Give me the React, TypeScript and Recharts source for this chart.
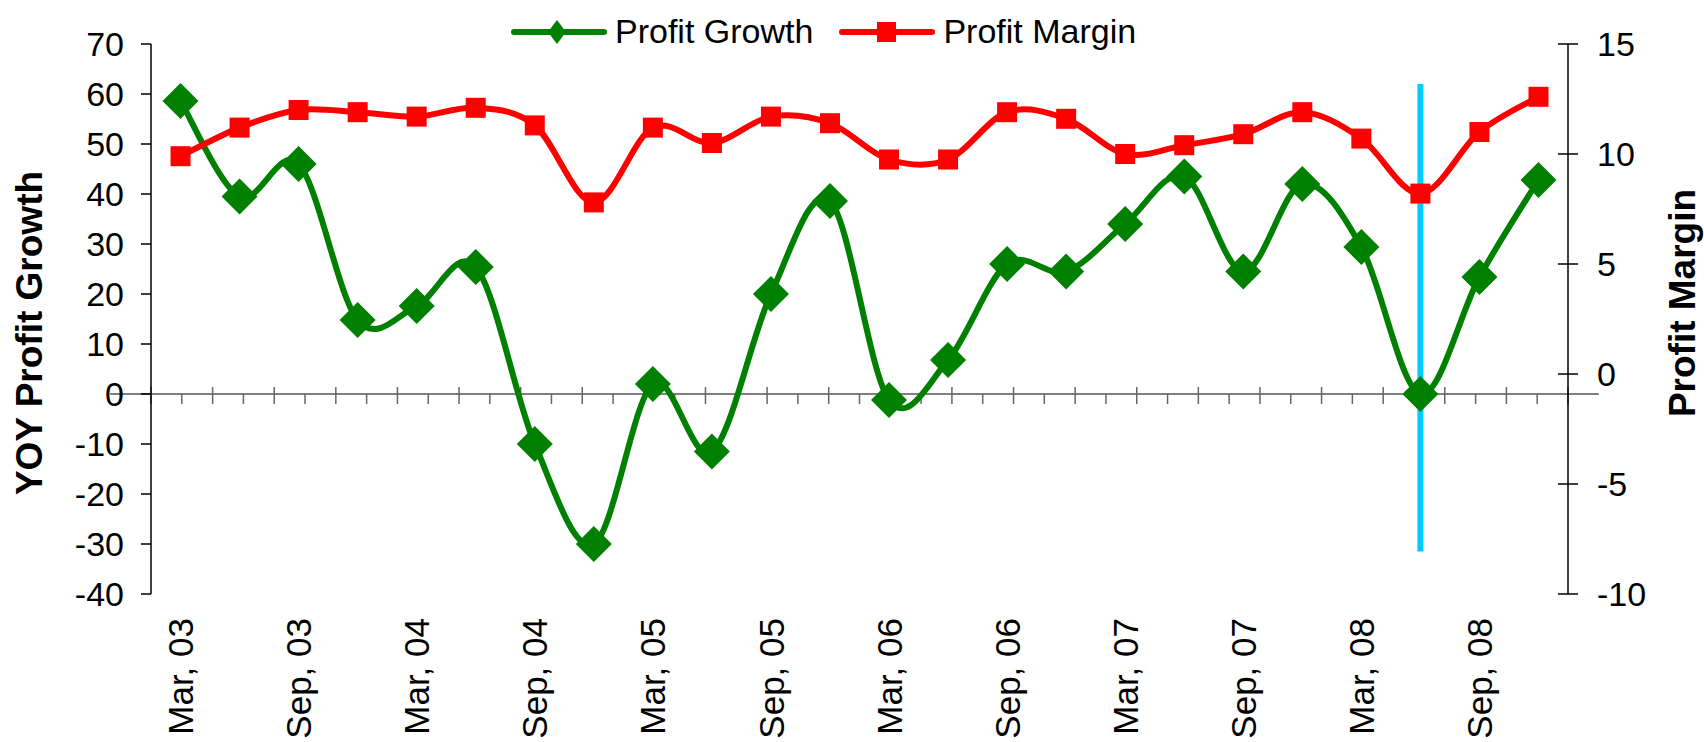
import React from 'react';
import {
  LineChart,
  Line,
  XAxis,
  YAxis,
  Legend,
  ReferenceLine,
} from 'recharts';

const quarters = [
  'Mar, 03', 'Jun, 03', 'Sep, 03', 'Dec, 03',
  'Mar, 04', 'Jun, 04', 'Sep, 04', 'Dec, 04',
  'Mar, 05', 'Jun, 05', 'Sep, 05', 'Dec, 05',
  'Mar, 06', 'Jun, 06', 'Sep, 06', 'Dec, 06',
  'Mar, 07', 'Jun, 07', 'Sep, 07', 'Dec, 07',
  'Mar, 08', 'Jun, 08', 'Sep, 08', 'Dec, 08',
];
const profitGrowth = [
  58.6, 39.5, 46, 14.8, 17.6, 25.4, -10, -30, 2, -11.5, 20, 38.6,
  -1.2, 6.8, 26, 24.5, 34, 43.5, 24.5, 42, 29.4, 0, 23.4, 42.8,
];
const profitMargin = [
  9.9, 11.2, 12.0, 11.9, 11.7, 12.1, 11.3, 7.8, 11.2, 10.5, 11.7, 11.4,
  9.75, 9.75, 11.9, 11.6, 10.0, 10.4, 10.9, 11.9, 10.7, 8.2, 11.0, 12.6,
];
const leftTicks = [-40, -30, -20, -10, 0, 10, 20, 30, 40, 50, 60, 70];
const rightTicks = [-10, -5, 0, 5, 10, 15];
// vertical marker (Jun 08), in left-axis units
const markerQuarter = 'Jun, 08';
const markerRange = [62, -31.5];

const data = quarters.map((q, i) => ({
  quarter: q,
  growth: profitGrowth[i],
  margin: profitMargin[i],
}));

const W = 1704;
const H = 742;
const PLOT_LEFT = 151;
const PLOT_RIGHT = 1568;
const PLOT_TOP = 44;
const PLOT_BOTTOM = 594;
const BAND = (PLOT_RIGHT - PLOT_LEFT) / quarters.length;

const FONT = '"Liberation Sans", Arial, sans-serif';
const GREEN = '#008000';
const RED = '#FF0000';

// Excel-like smoothed line (Catmull-Rom as cubic bezier)
const excelCurve = (context: any) => {
  let pts: number[][] = [];
  return {
    areaStart() {},
    areaEnd() {},
    lineStart() {
      pts = [];
    },
    point(x: number, y: number) {
      pts.push([+x, +y]);
    },
    lineEnd() {
      if (!pts.length) return;
      context.moveTo(pts[0][0], pts[0][1]);
      for (let i = 0; i < pts.length - 1; i++) {
        const p0 = pts[Math.max(i - 1, 0)];
        const p1 = pts[i];
        const p2 = pts[i + 1];
        const p3 = pts[Math.min(i + 2, pts.length - 1)];
        context.bezierCurveTo(
          p1[0] + (p2[0] - p0[0]) / 6,
          p1[1] + (p2[1] - p0[1]) / 6,
          p2[0] - (p3[0] - p1[0]) / 6,
          p2[1] - (p3[1] - p1[1]) / 6,
          p2[0],
          p2[1]
        );
      }
    },
  };
};

const Diamond = (props: any) => {
  const { cx, cy } = props;
  if (cx == null || cy == null) return null;
  const r = 18;
  return (
    <path
      key={props.key}
      d={`M${cx},${cy - r}L${cx + r},${cy}L${cx},${cy + r}L${cx - r},${cy}Z`}
      fill={GREEN}
    />
  );
};

const Square = (props: any) => {
  const { cx, cy } = props;
  if (cx == null || cy == null) return null;
  return <rect key={props.key} x={cx - 10} y={cy - 10} width={20} height={20} fill={RED} />;
};

const XTick = (props: any) => {
  const { x, y, payload } = props;
  return (
    <text
      x={x}
      y={y}
      transform={`rotate(-90, ${x}, ${y})`}
      textAnchor="end"
      dy="0.36em"
      fontSize={35}
      fontFamily={FONT}
      fill="#000"
    >
      {payload.value}
    </text>
  );
};

const RightTick = (props: any) => {
  const { x, y, payload } = props;
  const axisX = x - 29;
  return (
    <g>
      <line x1={axisX - 10} y1={y} x2={axisX + 10} y2={y} stroke="#000" strokeWidth={1.5} />
      <text x={x} y={y} dy="0.36em" textAnchor="start" fontSize={34} fontFamily={FONT} fill="#000">
        {payload.value}
      </text>
    </g>
  );
};

// zero line acting as the category axis, with Excel style tick marks
const ZeroAxis = (props: any) => {
  const { x1, x2, y1 } = props;
  const n = quarters.length;
  const step = (x2 - x1) / (n - 1);
  const marks = [];
  for (let i = 0; i < n; i++) {
    const cx = x1 + i * step;
    marks.push(<line key={`c${i}`} x1={cx} y1={y1 - 7} x2={cx} y2={y1 + 10} stroke="#666" strokeWidth={1.5} />);
    if (i > 0) {
      const bx = cx - step / 2;
      marks.push(<line key={`b${i}`} x1={bx} y1={y1} x2={bx} y2={y1 + 10} stroke="#666" strokeWidth={1.5} />);
    }
  }
  return (
    <g>
      <line x1={x1 - step / 2 - 10} y1={y1} x2={x2 + step / 2} y2={y1} stroke="#7f7f7f" strokeWidth={2} />
      {marks}
    </g>
  );
};

const leftTitle = () => {
  const x = 42;
  const y = 333;
  return (
    <text x={x} y={y} transform={`rotate(-90, ${x}, ${y})`} textAnchor="middle" fontSize={37} fontWeight="bold" fontFamily={FONT} fill="#000">
      YOY Profit Growth
    </text>
  );
};

const rightTitle = () => {
  const x = PLOT_RIGHT + 127;
  const y = 303;
  return (
    <text x={x} y={y} transform={`rotate(-90, ${x}, ${y})`} textAnchor="middle" fontSize={37} fontWeight="bold" fontFamily={FONT} fill="#000">
      Profit Margin
    </text>
  );
};

const LegendIcon = ({ color, shape }: { color: string; shape: string }) => (
  <svg width={96} height={30} style={{ display: 'block' }}>
    <line x1={3} y1={15} x2={93} y2={15} stroke={color} strokeWidth={6} strokeLinecap="round" />
    {shape === 'diamond' ? (
      <path d="M46,3L55,15L46,27L37,15Z" fill={color} />
    ) : (
      <rect x={38} y={5} width={19} height={20} fill={color} />
    )}
  </svg>
);

const renderLegend = (props: any) => {
  const items = props.payload || [];
  return (
    <div style={{ display: 'flex', alignItems: 'center', fontFamily: FONT, fontSize: 34, color: '#000', lineHeight: '39px' }}>
      {items.map((it: any, i: number) => (
        <div key={i} style={{ display: 'flex', alignItems: 'center', marginRight: 26 }}>
          <LegendIcon color={it.color} shape={it.dataKey === 'growth' ? 'diamond' : 'square'} />
          <span style={{ marginLeft: 8 }}>{it.value}</span>
        </div>
      ))}
    </div>
  );
};

export default function App() {
  return (
    <div style={{ width: W, height: H, background: '#fff' }}>
      <style>{'body{margin:0;}'}</style>
      <LineChart
        width={W}
        height={H}
        data={data}
        margin={{ top: PLOT_TOP, right: 0, bottom: 0, left: 0 }}
        style={{ fontFamily: FONT }}
      >
        <XAxis
          dataKey="quarter"
          height={H - PLOT_BOTTOM}
          interval={1}
          axisLine={false}
          tickLine={false}
          tickSize={0}
          tickMargin={24}
          tick={<XTick />}
          padding={{ left: BAND / 2, right: BAND / 2 }}
        />
        <YAxis
          yAxisId="left"
          domain={[-40, 70]}
          ticks={leftTicks}
          width={PLOT_LEFT}
          tickSize={10}
          tickMargin={17}
          axisLine={{ stroke: '#000', strokeWidth: 1.5 }}
          tickLine={{ stroke: '#000', strokeWidth: 1.5 }}
          tick={{ fontSize: 34, fill: '#000', fontFamily: FONT }}
          allowDataOverflow
          label={leftTitle}
        />
        <YAxis
          yAxisId="right"
          orientation="right"
          domain={[-10, 15]}
          ticks={rightTicks}
          width={W - PLOT_RIGHT}
          tickSize={10}
          tickMargin={19}
          axisLine={{ stroke: '#000', strokeWidth: 1.5 }}
          tickLine={false}
          tick={<RightTick />}
          allowDataOverflow
          label={rightTitle}
        />
        <ReferenceLine yAxisId="left" y={0} shape={ZeroAxis} />
        <Legend
          layout="horizontal"
          verticalAlign="middle"
          align="center"
          content={renderLegend}
          wrapperStyle={{ top: 12, left: 511, width: 'auto' }}
        />
        <Line
          yAxisId="left"
          dataKey="growth"
          name="Profit Growth"
          type={excelCurve as any}
          stroke={GREEN}
          strokeWidth={6}
          dot={Diamond}
          activeDot={false}
          isAnimationActive={false}
        />
        <Line
          yAxisId="right"
          dataKey="margin"
          name="Profit Margin"
          type={excelCurve as any}
          stroke={RED}
          strokeWidth={6}
          dot={Square}
          activeDot={false}
          isAnimationActive={false}
        />
        <ReferenceLine
          yAxisId="left"
          segment={[
            { x: markerQuarter, y: markerRange[0] },
            { x: markerQuarter, y: markerRange[1] },
          ]}
          stroke="#00CCFF"
          strokeWidth={6}
        />
      </LineChart>
    </div>
  );
}
